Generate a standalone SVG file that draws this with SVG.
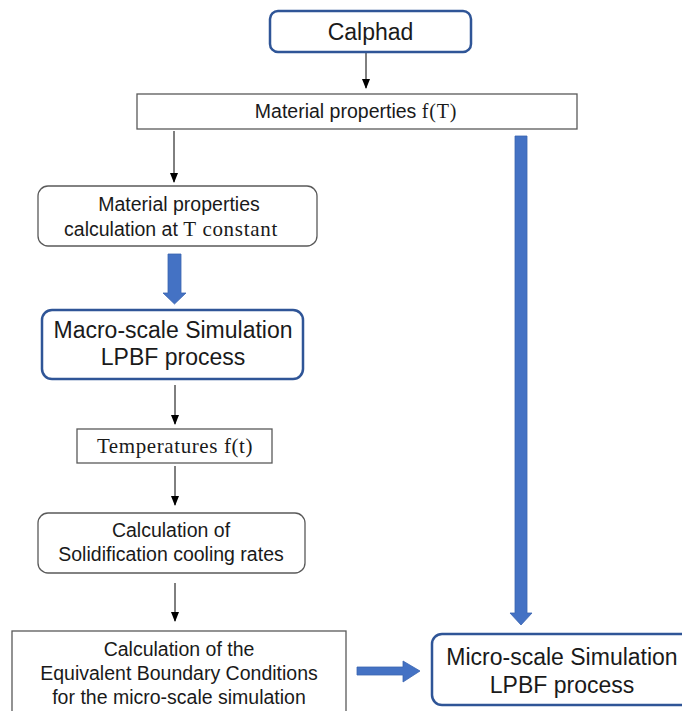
<svg xmlns="http://www.w3.org/2000/svg" width="682" height="711" viewBox="0 0 682 711">
<defs>
<marker id="ah" markerWidth="10" markerHeight="10" refX="9" refY="5" orient="auto" markerUnits="userSpaceOnUse">
<path d="M0,1 L10,5 L0,9 Z" fill="#000"/>
</marker>
<style>
.t{font-family:"Liberation Sans",Arial,sans-serif;fill:#1a1a1a;text-anchor:middle}
.s{font-size:19.5px}
.b{font-size:23px}
.m{font-family:"Liberation Serif","Times New Roman",serif}
.blue{fill:none;stroke:#2F5597;stroke-width:2.5}
.thin{fill:#fff;stroke:#595959;stroke-width:1.3}
.conn{stroke:#000;stroke-width:1;fill:none;marker-end:url(#ah)}
.ba{fill:#4472C4;stroke:#3A64B0;stroke-width:0.8}
</style>
</defs>
<rect width="682" height="711" fill="#fff"/>
<g id="connectors">
<line class="conn" x1="366" y1="53" x2="366" y2="88"/>
<line class="conn" x1="174" y1="131" x2="174" y2="182"/>
<line class="conn" x1="175" y1="385" x2="175" y2="424"/>
<line class="conn" x1="175" y1="466" x2="175" y2="505"/>
<line class="conn" x1="175" y1="583" x2="175" y2="621"/>
<path class="ba" d="M168,254 H181 V293 H186 L174.5,304 L163,293 H168 Z"/>
<path class="ba" d="M515,136 H527 V613 H532 L521,625 L510,613 H515 Z"/>
<path class="ba" d="M357,667 H403 V661 L420,671 L403,682 V675 H357 Z"/>
</g>
<g id="calphad">
<rect class="blue" x="270" y="11" width="201" height="41" rx="8"/>
<text class="t b" x="370.5" y="40">Calphad</text>
</g>
<g id="matprops">
<rect class="thin" x="137" y="94" width="440" height="35"/>
<text class="t s" x="356" y="118">Material properties <tspan class="m" font-size="20" letter-spacing="0.8">f(T)</tspan></text>
</g>
<g id="matcalc">
<rect class="thin" x="38" y="186" width="279" height="60" rx="10"/>
<text class="t s" x="179" y="211">Material properties</text>
<text class="t s" x="171" y="236">calculation at <tspan class="m" font-size="21" letter-spacing="0.7">T constant</tspan></text>
</g>
<g id="macro">
<rect class="blue" x="42" y="310" width="261" height="69" rx="10"/>
<text class="t b" x="173" y="338">Macro-scale Simulation</text>
<text class="t b" x="173" y="365">LPBF process</text>
</g>
<g id="temps">
<rect class="thin" x="77" y="429" width="195" height="34"/>
<text class="t m" x="175" y="453" font-size="21" letter-spacing="0.6">Temperatures f(t)</text>
</g>
<g id="cooling">
<rect class="thin" x="38" y="513" width="267" height="60" rx="10"/>
<text class="t s" x="171" y="537">Calculation of</text>
<text class="t s" x="171" y="561">Solidification cooling rates</text>
</g>
<g id="boundary">
<rect class="thin" x="12" y="631" width="334" height="95"/>
<text class="t s" x="179" y="656">Calculation of the</text>
<text class="t s" x="179" y="680">Equivalent Boundary Conditions</text>
<text class="t s" x="179" y="704">for the micro-scale simulation</text>
</g>
<g id="micro">
<rect class="blue" x="432" y="634" width="265" height="71" rx="10"/>
<text class="t b" x="562" y="665">Micro-scale Simulation</text>
<text class="t b" x="562" y="693">LPBF process</text>
</g>
</svg>
